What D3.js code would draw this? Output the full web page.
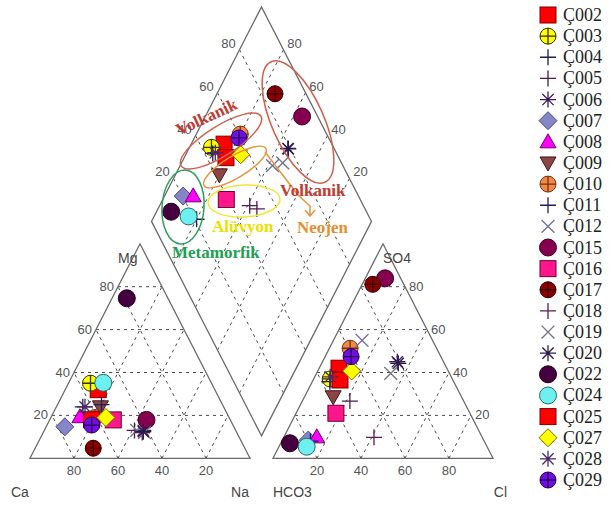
<!DOCTYPE html>
<html>
<head>
<meta charset="utf-8">
<script src="https://cdn.jsdelivr.net/npm/d3@7"></script>
<style>
  body { margin: 0; background: #fff; }
</style>
</head>
<body>
<div id="chart"></div>
<script>
// Piper diagram, water samples (percent of meq/l)
const samples = ['Ç002', 'Ç003', 'Ç004', 'Ç005', 'Ç006', 'Ç007', 'Ç008', 'Ç009', 'Ç010', 'Ç011', 'Ç012',
  'Ç015', 'Ç016', 'Ç017', 'Ç018', 'Ç019', 'Ç020', 'Ç022', 'Ç024', 'Ç025', 'Ç027', 'Ç028', 'Ç029'];
// cations
const mgPct = [32, 35, 24, 13, 13, 14.7, 19.4, 24, 19, 25, 13, 17.9, 17.9, 4.7, 12, 12, 12.4, 74.6, 35.2, 18, 19, 24, 15.5];
const naPct = [15, 10, 12, 41, 45, 8.5, 13, 20, 20, 20, 42, 44, 28.9, 26.4, 45, 46, 45.3, 6.7, 15.7, 19, 25, 13, 20.3];
// anions
const so4Pct = [42, 37, 35.7, 26.7, 45, 8.5, 10, 28.7, 51.3, 8, 55, 83.9, 21, 81.1, 9.8, 39.6, 44.3, 7, 5.4, 36.5, 40.7, 38, 47.4];
const clPct = [9, 7.5, 8, 21.6, 34, 11.8, 14.9, 13, 9.4, 13, 13, 9, 18.1, 4.8, 41, 33.7, 34.8, 4.2, 12.6, 12.2, 15.4, 7, 11.8];

const markerType = ['square', 'circleplus', 'plus', 'plus', 'star', 'diamond', 'tri', 'tridown', 'circleplus', 'plus', 'x',
  'circle', 'square', 'circleplus', 'plus', 'x', 'star', 'circle', 'circle', 'square', 'diamond', 'star', 'circleplus'];
const markerFill = ['#ff0000', '#ffff00', 'none', 'none', 'none', '#8585c8', '#ff00ff', '#8b4545', '#f08a4a', 'none', 'none',
  '#85004f', '#ff168c', '#8b0000', 'none', 'none', 'none', '#45003f', '#6ff0f0', '#ff0000', '#ffff00', 'none', '#7010e0'];
const markerStroke = ['#7a0000', '#333300', '#1e1e50', '#4a1a50', '#3a1a5a', '#4a4a80', '#6a006a', '#3a1a1a', '#7a3010', '#1e1e60', '#7070a0',
  '#3a0020', '#6a0030', '#3a0000', '#5a1a5a', '#707088', '#2a1a4a', '#200020', '#2a6a6a', '#7a0000', '#7a6a00', '#4a2a6a', '#2a0060'];

const tickVals = [20, 40, 60, 80];

const W = 611, H = 505;
const G = 23 / 220; // gap between the triangles, in side lengths
const xs = d3.scaleLinear().domain([0, 1]).range([30, 250]);
const ys = d3.scaleLinear().domain([0, 1]).range([458.3, 243.8]);

const cat = (mg, na) => [xs(na + mg / 2), ys(mg)];
const ani = (so4, cl) => [xs(1 + G + cl + so4 / 2), ys(so4)];
const dia = (na, a) => {
  const t = 1 + G + a - na;
  return [xs(na + t / 2), ys(t)];
};

const sans = "'Liberation Sans', Arial, sans-serif";
const serif = "'Liberation Serif', 'Times New Roman', serif";

const svg = d3.select('#chart').append('svg').attr('width', W).attr('height', H);
svg.append('rect').attr('width', W).attr('height', H).attr('fill', '#fff');

const gridG = svg.append('g').attr('fill', 'none').attr('stroke', '#4a4a4a')
  .attr('stroke-width', 1).attr('stroke-dasharray', '3,4');
const frameG = svg.append('g').attr('fill', 'none').attr('stroke', '#6a6a6a').attr('stroke-width', 1.3);
const line = d3.line();
const seg = (p, q) => gridG.append('path').attr('d', line([p, q]));

// frames
frameG.append('path').attr('d', line([cat(0, 0), cat(0, 1), cat(1, 0)]) + 'Z');
frameG.append('path').attr('d', line([ani(0, 0), ani(0, 1), ani(1, 0)]) + 'Z');
frameG.append('path').attr('d', line([dia(1, 0), dia(1, 1), dia(0, 1), dia(0, 0)]) + 'Z');

// grids
tickVals.forEach((v) => {
  const k = v / 100;
  seg(cat(k, 0), cat(k, 1 - k));
  seg(cat(0, k), cat(1 - k, k));
  seg(cat(0, 1 - k), cat(1 - k, 0));
  seg(ani(k, 0), ani(k, 1 - k));
  seg(ani(0, k), ani(1 - k, k));
  seg(ani(0, 1 - k), ani(1 - k, 0));
  seg(dia(k, 0), dia(k, 1));
  seg(dia(0, k), dia(1, k));
});

// tick labels
const tickG = svg.append('g').attr('fill', '#555').style('font-family', sans).style('font-size', '13px');
tickVals.forEach((v) => {
  const k = v / 100;
  let p = cat(k, 0);
  tickG.append('text').attr('x', p[0] - 4).attr('y', p[1] + 4).attr('text-anchor', 'end').text(v);
  p = cat(0, 1 - k);
  tickG.append('text').attr('x', p[0]).attr('y', p[1] + 17).attr('text-anchor', 'middle').text(v);
  p = ani(0, k);
  tickG.append('text').attr('x', p[0]).attr('y', p[1] + 17).attr('text-anchor', 'middle').text(v);
  p = ani(k, 1 - k);
  tickG.append('text').attr('x', p[0] + 4).attr('y', p[1] + 4).attr('text-anchor', 'start').text(v);
  p = dia(0, k);
  tickG.append('text').attr('x', p[0] - 11).attr('y', p[1] - 2).attr('text-anchor', 'middle').text(v);
  p = dia(k, 1);
  tickG.append('text').attr('x', p[0] + 11).attr('y', p[1] - 2).attr('text-anchor', 'middle').text(100 - v);
});

const nameG = svg.append('g').attr('fill', '#444').style('font-family', sans).style('font-size', '14px');
nameG.append('text').attr('x', 11).attr('y', 497).text('Ca');
nameG.append('text').attr('x', 249).attr('y', 497).attr('text-anchor', 'end').text('Na');
nameG.append('text').attr('x', 273).attr('y', 497).text('HCO3');
nameG.append('text').attr('x', 507).attr('y', 497).attr('text-anchor', 'end').text('Cl');
nameG.append('text').attr('x', 118).attr('y', 263).text('Mg');
nameG.append('text').attr('x', 383).attr('y', 263).text('SO4');

function drawMarker(g, type, fill, stroke, cx, cy) {
  const s = 8;
  const m = g.append('g').attr('transform', `translate(${cx},${cy})`);
  const lineStyle = (sel) => sel.attr('stroke', stroke).attr('stroke-width', 1.3).attr('fill', 'none');
  if (type === 'square') {
    m.append('rect').attr('x', -s).attr('y', -s).attr('width', 2 * s).attr('height', 2 * s)
      .attr('fill', fill).attr('stroke', stroke);
  } else if (type === 'circle') {
    m.append('circle').attr('r', s + 0.5).attr('fill', fill).attr('stroke', stroke);
  } else if (type === 'circleplus') {
    m.append('circle').attr('r', s).attr('fill', fill).attr('stroke', stroke);
    m.append('path').attr('d', `M${-s},0H${s}M0,${-s}V${s}`).call(lineStyle);
  } else if (type === 'diamond') {
    m.append('path').attr('d', `M0,${-s - 1}L${s + 1},0L0,${s + 1}L${-s - 1},0Z`).attr('fill', fill).attr('stroke', stroke);
  } else if (type === 'tri') {
    m.append('path').attr('d', `M0,${-s}L${s},${s * 0.75}L${-s},${s * 0.75}Z`).attr('fill', fill).attr('stroke', stroke);
  } else if (type === 'tridown') {
    m.append('path').attr('d', `M0,${s}L${s},${-s * 0.75}L${-s},${-s * 0.75}Z`).attr('fill', fill).attr('stroke', stroke);
  } else if (type === 'plus') {
    m.append('path').attr('d', `M${-s},0H${s}M0,${-s}V${s}`).call(lineStyle);
  } else if (type === 'x') {
    const d = s * 0.8;
    m.append('path').attr('d', `M${-d},${-d}L${d},${d}M${-d},${d}L${d},${-d}`).call(lineStyle);
  } else if (type === 'star') {
    const d = s * 0.7;
    m.append('path').attr('d', `M${-s},0H${s}M0,${-s}V${s}M${-d},${-d}L${d},${d}M${-d},${d}L${d},${-d}`).call(lineStyle);
  }
}

// points
const ptG = svg.append('g');
samples.forEach((name, i) => {
  const mg = mgPct[i] / 100, na = naPct[i] / 100, so4 = so4Pct[i] / 100, cl = clPct[i] / 100;
  const pc = cat(mg, na), pa = ani(so4, cl), pd = dia(na, so4 + cl);
  [pc, pa, pd].forEach((p) => drawMarker(ptG, markerType[i], markerFill[i], markerStroke[i], p[0], p[1]));
});

// annotation groups
const annG = svg.append('g').attr('fill', 'none').attr('stroke-width', 1.5);
const ell = (cx, cy, rx, ry, rot, color) =>
  annG.append('ellipse').attr('cx', 0).attr('cy', 0).attr('rx', rx).attr('ry', ry)
    .attr('transform', `translate(${cx},${cy}) rotate(${rot})`).attr('stroke', color);
ell(221, 141, 47, 15, -32, '#d0604e');
ell(298, 122, 66, 26, 66, '#d0604e');
ell(235, 167, 36, 11, -31, '#e5953f');
ell(244, 201, 36, 16, -3, '#efe83a');
ell(183, 207, 21, 37, 4, '#2f9d5c');
annG.append('path').attr('d', 'M265,152L298,195L310,206L310,216M305,210L310,216L315,210')
  .attr('stroke', '#e5953f');

const labG = svg.append('g').style('font-family', serif).style('font-weight', 'bold').style('font-size', '17px');
labG.append('text').attr('transform', 'translate(209,122) rotate(-25)').attr('text-anchor', 'middle')
  .attr('fill', '#c23a30').text('Volkanik');
labG.append('text').attr('x', 280).attr('y', 196).attr('fill', '#c23a30').text('Volkanik');
labG.append('text').attr('x', 212).attr('y', 232).attr('fill', '#eae000').text('Alüvyon');
labG.append('text').attr('x', 297).attr('y', 233).attr('fill', '#e5902e').text('Neojen');
labG.append('text').attr('x', 172).attr('y', 258).attr('fill', '#21a052').text('Metamorfik');

// legend
const legG = svg.append('g').style('font-family', serif).style('font-size', '18px');
const rowY = d3.scaleLinear().domain([0, samples.length - 1]).range([15, 480]);
samples.forEach((name, i) => {
  drawMarker(legG, markerType[i], markerFill[i], markerStroke[i], 548, rowY(i));
  legG.append('text').attr('x', 563).attr('y', rowY(i) + 6).attr('fill', '#222').text(name);
});
</script>
</body>
</html>
